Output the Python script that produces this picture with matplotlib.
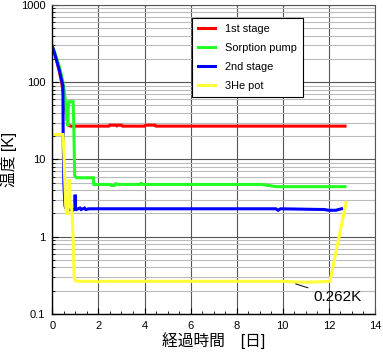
import numpy as np
import matplotlib
matplotlib.use('Agg')
import matplotlib.pyplot as plt
from matplotlib.ticker import LogLocator, MultipleLocator, NullFormatter

plt.rcParams['font.family'] = ['Liberation Sans', 'Noto Sans CJK JP', 'DejaVu Sans']

#------------------------------------------------------------------------------
# DATA
#------------------------------------------------------------------------------

t_1st = [0, 0.1, 0.2, 0.3, 0.4, 0.5, 0.6, 0.68, 0.8, 2.45, 2.5, 2.75, 2.8, 2.85, 3.0, 3.05,
         4.0, 4.05, 4.45, 4.5, 12.7]
T_1st = [290, 235, 185, 140, 100, 66, 40, 28, 27, 27, 27.8, 27.8, 27.2, 27.8, 27.8, 27,
         27, 27.8, 27.8, 27, 27]

t_sorb = [0, 0.1, 0.2, 0.3, 0.4, 0.5, 0.56, 0.62, 0.68, 0.69, 0.72, 0.9, 0.93, 0.97, 1.05,
          1.78, 1.8, 2.5, 2.55, 2.7, 2.75, 2.85, 3.8, 3.85, 3.95, 9.1, 9.7, 12.7]
T_sorb = [290, 245, 200, 160, 122, 85, 60, 35, 27, 45, 56, 56, 30, 6.2, 5.8,
          5.8, 4.75, 4.75, 4.6, 4.6, 4.85, 4.75, 4.75, 4.9, 4.75, 4.75, 4.45, 4.45]

t_2nd = [0, 0.1, 0.2, 0.3, 0.4, 0.46, 0.47, 0.5, 0.55, 0.6, 0.7, 0.8, 0.9, 0.98, 0.99,
         1.01, 1.05, 1.2, 1.25, 1.4, 1.45, 1.6, 1.65, 9.7, 9.8, 9.9, 11.8, 12.0, 12.3, 12.55]
T_2nd = [290, 235, 185, 145, 108, 90, 22, 5, 2.5, 2.3, 2.2, 2.3, 2.2, 2.3, 3.5,
         2.3, 2.25, 2.35, 2.25, 2.35, 2.25, 2.3, 2.3, 2.3, 2.2, 2.3, 2.25, 2.2, 2.2, 2.3]

t_he3 = [0, 0.46, 0.48, 0.52, 0.58, 0.62, 0.68, 0.71, 0.73, 0.76, 0.85, 0.9, 0.95, 1.0,
         1.1, 1.9, 2.0, 2.1, 10.0, 10.5, 11.0, 11.5, 12.05, 12.75]
T_he3 = [21, 21, 18, 8, 2.5, 2.0, 2.0, 3.5, 5.5, 3.0, 2.2, 1.0, 0.3, 0.27,
         0.265, 0.265, 0.26, 0.265, 0.265, 0.26, 0.258, 0.26, 0.265, 2.8]

labels = ['1st stage', 'Sorption pump', '2nd stage', '3He pot']
colors = ['#ff0000', '#22ff22', '#0000ff', '#ffff33']

#------------------------------------------------------------------------------
# PLOT
#------------------------------------------------------------------------------

fig = plt.figure(figsize=(3.83, 3.53), dpi=100)
ax = fig.add_axes([0.1366, 0.1105, 0.8424, 0.8755])

series = [(t_1st, T_1st), (t_sorb, T_sorb), (t_2nd, T_2nd), (t_he3, T_he3)]
for (t, T), lab, c in zip(series, labels, colors):
    ax.plot(t, T, color=c, lw=2.2, label=lab, solid_joinstyle='miter')

ax.set_yscale('log')
ax.set_xlim(0, 14)
ax.set_ylim(0.1, 1000)
ax.xaxis.set_major_locator(MultipleLocator(2))
ax.xaxis.set_minor_locator(MultipleLocator(0.5))
ax.yaxis.set_major_locator(LogLocator(base=10))
ax.yaxis.set_minor_locator(LogLocator(base=10, subs=np.arange(2, 10)))
ax.yaxis.set_minor_formatter(NullFormatter())
ax.set_yticks([0.1, 1, 10, 100, 1000])
ax.set_yticklabels(['0.1', '1', '10', '100', '1000'])

ax.grid(which='major', color='#555555', lw=0.8)
ax.grid(which='minor', axis='y', color='#bbbbbb', lw=0.8)
ax.set_axisbelow(True)

ax.tick_params(which='both', direction='in', top=False, right=False, labelsize=8)
ax.tick_params(which='major', length=4, pad=5)
ax.tick_params(which='minor', length=2.5)
for s in ['top', 'right']:
    ax.spines[s].set_color('#555555')
for s in ['left', 'bottom']:
    ax.spines[s].set_linewidth(1.0)

ax.set_xlabel('経過時間　[日]', fontsize=11.3, labelpad=1)
ax.set_ylabel('温度 [K]', fontsize=11.3, labelpad=3)

ax.annotate('0.262K', xy=(10.56, 0.245), xytext=(11.33, 0.165), fontsize=11,
            va='center', ha='left',
            arrowprops=dict(arrowstyle='-', color='black', lw=0.7, shrinkA=2, shrinkB=0))

leg = ax.legend(loc='upper left', bbox_to_anchor=(0.432, 0.957), fontsize=7.9,
                frameon=True, fancybox=False, edgecolor='black', framealpha=1,
                handlelength=1.6, handletextpad=0.9, labelspacing=0.8,
                borderpad=0.55, borderaxespad=0)
leg.get_frame().set_linewidth(0.8)

fig.savefig('out.png', dpi=100)
print('** END')
